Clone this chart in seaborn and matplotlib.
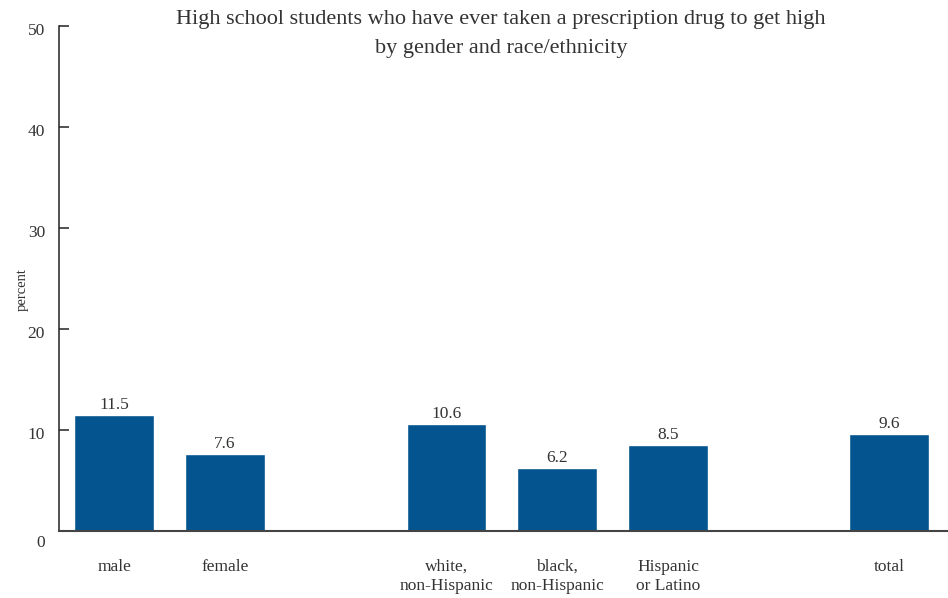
import matplotlib
matplotlib.use("Agg")
import matplotlib.pyplot as plt
import matplotlib.transforms as mtransforms
import seaborn as sns
import pandas as pd

# values
groups = ["male", "female", "white,\nnon-Hispanic", "black,\nnon-Hispanic",
          "Hispanic\nor Latino", "total"]
percent = [11.5, 7.6, 10.6, 6.2, 8.5, 9.6]
# blank slots make the gaps between the gender / race / total groups
order = ["male", "female", " ", "white,\nnon-Hispanic", "black,\nnon-Hispanic",
         "Hispanic\nor Latino", "  ", "total"]
y_ticks = [0, 10, 20, 30, 40, 50]

bar_color = "#03548f"
text_color = "#333333"

sns.set_style("white")
plt.rcParams["font.family"] = ["Liberation Serif", "DejaVu Serif"]
plt.rcParams["text.color"] = text_color

df = pd.DataFrame({"group": groups, "percent": percent})

fig = plt.figure(figsize=(9.48, 5.98), dpi=100)
ax = fig.add_axes([59 / 948, 67 / 598, 889 / 948, 505 / 598])

sns.barplot(data=df, x="group", y="percent", order=order, color=bar_color,
            saturation=1, width=0.72, errorbar=None, ax=ax)

for cont in ax.containers:
    ax.bar_label(cont, fmt="%.1f", padding=1.5, fontsize=12.5, color=text_color)

ax.set_ylim(0, 50)
ax.set_xlim(-0.5, 7.53)
ax.set_yticks(y_ticks)
ax.set_xlabel("")
ax.set_ylabel("")
ax.set_xticks(range(len(order)))
ax.set_xticklabels([o.strip() for o in order])

sns.despine(ax=ax)
ax.spines["left"].set_color("#222222")
ax.spines["bottom"].set_color("#444444")
ax.spines["left"].set_linewidth(1.1)
ax.spines["bottom"].set_linewidth(1.5)

ax.tick_params(axis="y", left=True, direction="in", length=7, width=1.1,
               color="#222222", pad=10, labelsize=12.5, labelcolor=text_color)
ax.tick_params(axis="x", bottom=False, length=0, pad=20, labelsize=12.5,
               labelcolor=text_color)
for lbl in ax.get_xticklabels():
    lbl.set_linespacing(1.25)

# tick labels sit a little below their ticks in the reference
for val, lbl in zip(y_ticks, ax.get_yticklabels()):
    drop = 10 if val == 0 else 3
    lbl.set_transform(lbl.get_transform() +
                      mtransforms.ScaledTranslation(0, -drop / 100, fig.dpi_scale_trans))

fig.text(501 / 948, 1 - 10 / 598,
         "High school students who have ever taken a prescription drug to get high\n"
         "by gender and race/ethnicity",
         ha="center", va="top", fontsize=16, linespacing=1.7, color=text_color)
fig.text(22 / 948, 1 - 290 / 598, "percent", rotation=90, ha="center",
         va="center", fontsize=10.5, color=text_color)

fig.savefig("out.png", dpi=100)
